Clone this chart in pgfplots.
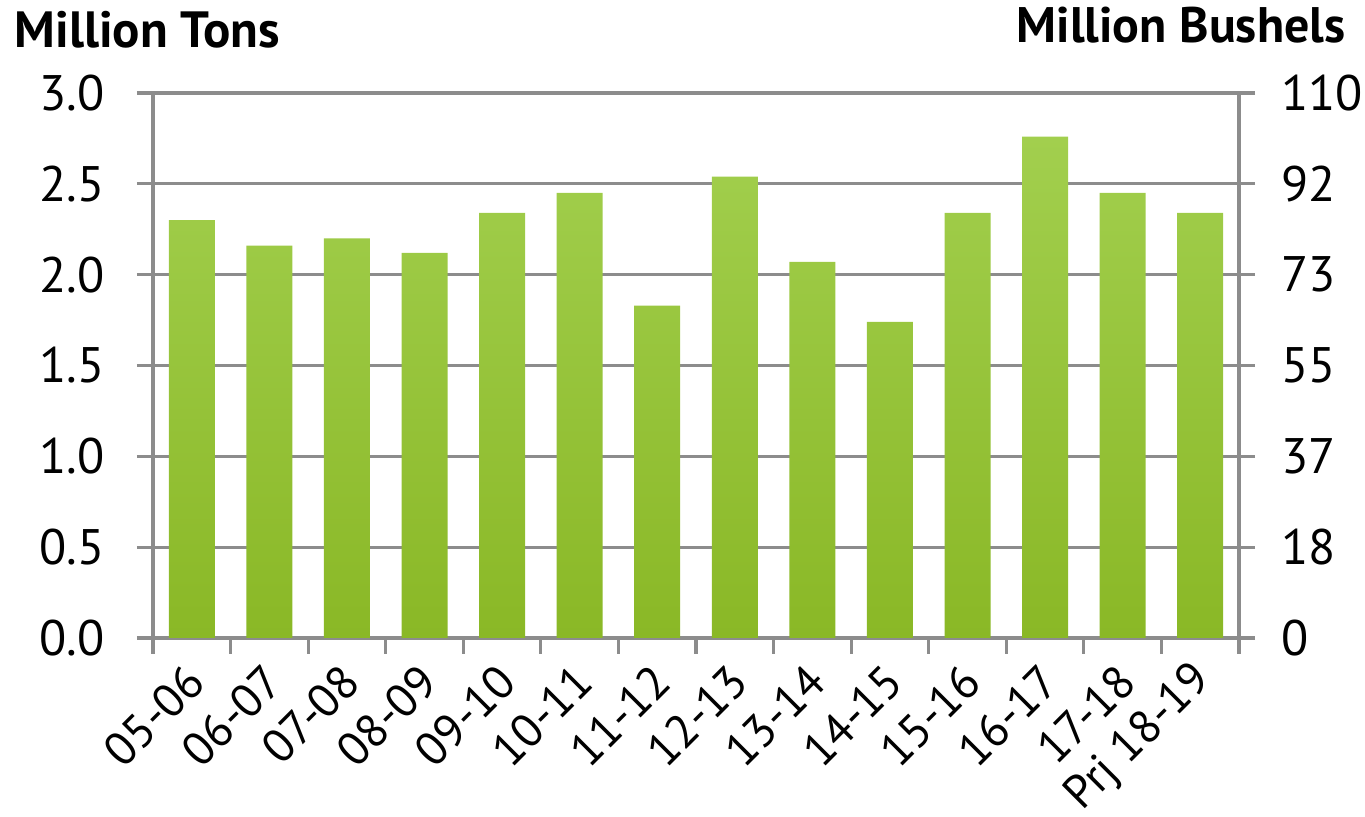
\documentclass[border=0pt]{standalone}
\usepackage{fontspec}
\setmainfont{PT Sans}
\usepackage{pgfplots}
\pgfplotsset{compat=1.18}
\definecolor{bartop}{HTML}{A2CF4E}
\definecolor{barbot}{HTML}{8AB826}
\definecolor{gridgray}{HTML}{8C8C8C}
\begin{document}
\begin{tikzpicture}
\useasboundingbox (0,0) rectangle (13.65cm,8.17cm);
\pgfplotsset{
  base/.style={
    at={(1.53cm,1.79cm)}, anchor=south west,
    scale only axis, width=10.86cm, height=5.45cm,
    xmin=-0.5, xmax=13.5, ymin=0, ymax=3,
    ytick={0,0.5,1,1.5,2,2.5,3},
    tick align=outside, major tick length=0.16cm,
    every tick/.style={gridgray, line width=0.9pt},
    axis line style={gridgray, line width=0.9pt},
    yticklabel style={font=\fontsize{14.2}{17}\selectfont},
    /pgf/number format/assume math mode=true,
  }
}
\begin{axis}[base,
  axis x line*=bottom, axis y line*=left,
  ymajorgrids, grid style={gridgray, line width=0.9pt},
  yticklabel style={/pgf/number format/fixed,/pgf/number format/fixed zerofill,/pgf/number format/precision=1, xshift=-0.2cm},
  xtick={-0.5,0.5,...,13.5},
  x tick label as interval,
  xticklabels={05-06,06-07,07-08,08-09,09-10,10-11,11-12,12-13,13-14,14-15,15-16,16-17,17-18,Prj 18-19},
  xticklabel style={font=\fontsize{13.3}{16}\selectfont, anchor=east, inner sep=0pt, yshift=-0.19cm, xshift=0.05cm, rotate=45},
]
\addplot[ybar, bar width=0.46cm, draw=none, top color=bartop, bottom color=barbot] coordinates {
(0,2.30) (1,2.16) (2,2.20) (3,2.12) (4,2.34) (5,2.45) (6,1.83) (7,2.54) (8,2.07) (9,1.74) (10,2.34) (11,2.76) (12,2.45) (13,2.34)};
\end{axis}
\begin{axis}[base,
  axis x line=none, axis y line*=right,
  yticklabels={0,18,37,55,73,92,110},
  yticklabel style={xshift=0.14cm},
]
\addplot[draw=none] coordinates {(0,0)};
\end{axis}
\node[anchor=base west, font=\bfseries\fontsize{14.5}{17}\selectfont, inner sep=0pt] at (0.14cm,7.69cm) {Million Tons};
\node[anchor=base east, font=\bfseries\fontsize{14.2}{17}\selectfont, inner sep=0pt] at (13.46cm,7.74cm) {Million Bushels};
\end{tikzpicture}
\end{document}
